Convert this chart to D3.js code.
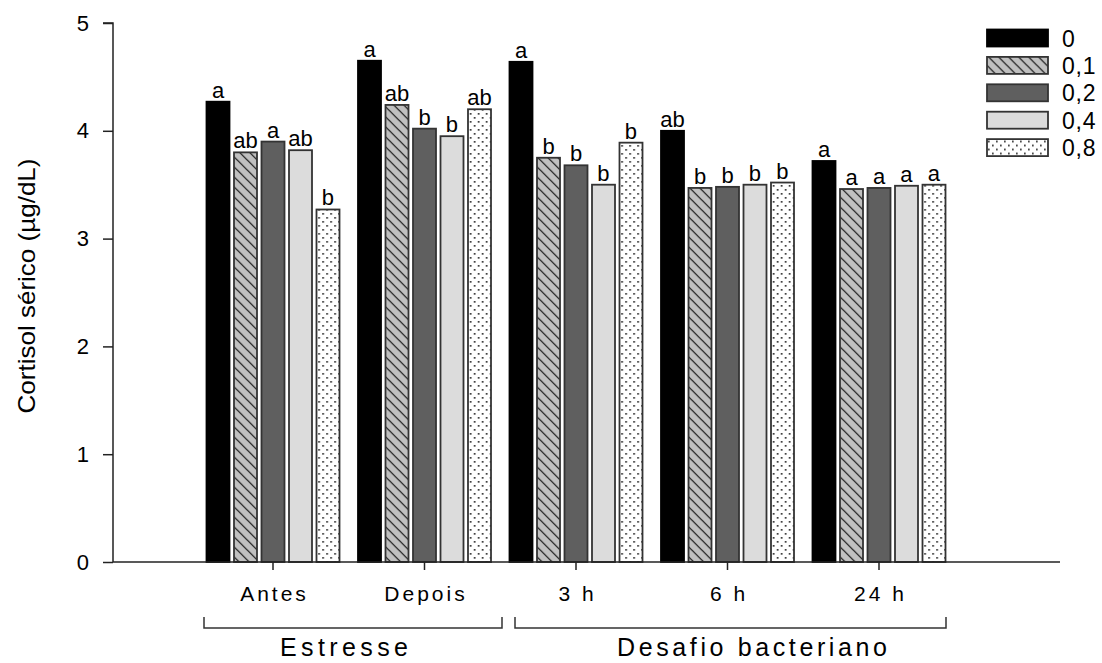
<!DOCTYPE html>
<html lang="pt">
<head>
<meta charset="UTF-8">
<title>Cortisol sérico</title>
<style>
  body { margin: 0; background: #fff; }
  text { font-family: "Liberation Sans", Arial, sans-serif; fill: #000; }
</style>
</head>
<body>
<svg id="chart" width="1102" height="663"></svg>
<script src="https://cdn.jsdelivr.net/npm/d3@7"></script>
<script>
  // data
  let categories = ["Antes", "Depois", "3 h", "6 h", "24 h"]
  let series = ["0", "0,1", "0,2", "0,4", "0,8"]
  let values = [
    [4.27, 3.80, 3.90, 3.82, 3.27],
    [4.65, 4.24, 4.02, 3.95, 4.20],
    [4.64, 3.75, 3.68, 3.50, 3.89],
    [4.00, 3.47, 3.48, 3.50, 3.52],
    [3.72, 3.46, 3.47, 3.49, 3.50]
  ]
  let letters = [
    ["a", "ab", "a", "ab", "b"],
    ["a", "ab", "b", "b", "ab"],
    ["a", "b", "b", "b", "b"],
    ["ab", "b", "b", "b", "b"],
    ["a", "a", "a", "a", "a"]
  ]
  let yTicks = [0, 1, 2, 3, 4, 5]
  let groups = [
    {label: "Estresse", from: 204, to: 502, center: 344, len: 128},
    {label: "Desafio bacteriano", from: 515, to: 946, center: 752, len: 270}
  ]

  let svg = d3.select("#chart")
  let defs = svg.append("defs")

  let hatch = defs.append("pattern")
                  .attr("id", "hatch")
                  .attr("patternUnits", "userSpaceOnUse")
                  .attr("width", 10).attr("height", 10)
  hatch.append("rect").attr("width", 10).attr("height", 10).attr("fill", "#c0c0c0")
  hatch.append("path")
       .attr("d", "M-1,-1 L11,11 M-6,4 L1,11 M4,-6 L11,1")
       .attr("stroke", "#111").attr("stroke-width", 1.2)

  let dots = defs.append("pattern")
                 .attr("id", "dots")
                 .attr("patternUnits", "userSpaceOnUse")
                 .attr("width", 8).attr("height", 8)
  dots.append("rect").attr("width", 8).attr("height", 8).attr("fill", "#fff")
  dots.append("rect").attr("x", 1).attr("y", 1).attr("width", 1.7).attr("height", 1.7).attr("fill", "#333")
  dots.append("rect").attr("x", 5).attr("y", 5).attr("width", 1.7).attr("height", 1.7).attr("fill", "#333")

  let fills = ["#000", "url(#hatch)", "#5f5f5f", "#dcdcdc", "url(#dots)"]

  let axisLeft = 113, axisRight = 1060

  let y = d3.scaleLinear().domain([0, 5]).range([562, 23])
  let x0 = d3.scaleBand().domain(categories).range([197.25, 954.75])
  let x1 = d3.scaleBand().domain(series)
             .range([(x0.bandwidth() - 133) / 2, (x0.bandwidth() + 133) / 2])
             .paddingInner(0.1636)

  // bars
  let group = svg.append("g").selectAll("g")
                 .data(categories)
                 .enter()
                 .append("g")
                 .attr("transform", d => `translate(${x0(d)},0)`)

  group.selectAll("rect")
       .data((c, i) => series.map((s, j) => ({s: s, j: j, v: values[i][j], l: letters[i][j]})))
       .enter()
       .append("rect")
       .attr("x", d => x1(d.s))
       .attr("y", d => y(d.v))
       .attr("width", x1.bandwidth())
       .attr("height", d => y(0) - y(d.v))
       .attr("fill", d => fills[d.j])
       .attr("stroke", d => d.j == 0 ? "#000" : "#333")
       .attr("stroke-width", 1.8)

  group.selectAll("text")
       .data((c, i) => series.map((s, j) => ({s: s, v: values[i][j], l: letters[i][j]})))
       .enter()
       .append("text")
       .attr("x", d => x1(d.s) + x1.bandwidth() / 2)
       .attr("y", d => y(d.v) - 4)
       .attr("text-anchor", "middle")
       .attr("font-size", 22)
       .text(d => d.l)

  // y axis
  let yAxis = svg.append("g")
                 .attr("transform", `translate(${axisLeft},0)`)
                 .call(d3.axisLeft(y).tickValues(yTicks).tickFormat(d3.format("d")).tickSize(10).tickPadding(14))
  yAxis.select(".domain").attr("d", `M-10,${y(5)}H0V${y(0)}`).attr("stroke", "#222").attr("stroke-width", 1.5)
  yAxis.selectAll(".tick line").attr("stroke", "#222").attr("stroke-width", 1.5)
  yAxis.selectAll(".tick text").attr("font-size", 22).attr("font-family", "Liberation Sans, Arial, sans-serif").attr("fill", "#000")

  // x axis
  svg.append("line")
     .attr("x1", axisLeft).attr("x2", axisRight)
     .attr("y1", y(0)).attr("y2", y(0))
     .attr("stroke", "#222").attr("stroke-width", 1.5)

  let xTicks = svg.append("g").selectAll("g")
                  .data(categories)
                  .enter()
                  .append("g")
                  .attr("transform", d => `translate(${x0(d) + x0.bandwidth() / 2},${y(0)})`)
  xTicks.append("line").attr("y2", 8).attr("stroke", "#222").attr("stroke-width", 1.5)
  xTicks.append("text")
        .attr("x", 1.5)
        .attr("y", 39)
        .attr("text-anchor", "middle")
        .attr("font-size", 21)
        .attr("letter-spacing", 3)
        .text(d => d)

  // group brackets
  let g2 = svg.append("g").selectAll("g").data(groups).enter().append("g")
  g2.append("path")
    .attr("d", d => `M${d.from},617V628H${d.to}V617`)
    .attr("fill", "none").attr("stroke", "#333").attr("stroke-width", 1.5)
  g2.append("text")
    .attr("x", d => d.center)
    .attr("y", 656)
    .attr("text-anchor", "middle")
    .attr("font-size", 25)
    .attr("textLength", d => d.len)
    .attr("lengthAdjust", "spacing")
    .text(d => d.label)

  // y title
  svg.append("text")
     .attr("transform", "translate(35,286) rotate(-90)")
     .attr("text-anchor", "middle")
     .attr("font-size", 24)
     .attr("font-family", "Liberation Sans Narrow, Arial Narrow, sans-serif")
     .attr("textLength", 255)
     .attr("lengthAdjust", "spacingAndGlyphs")
     .text("Cortisol sérico (µg/dL)")

  // legend
  let legend = svg.append("g").selectAll("g")
                  .data(series)
                  .enter()
                  .append("g")
                  .attr("transform", (d, i) => `translate(987,${38 + i * 27.4})`)
  legend.append("rect")
        .attr("x", 0).attr("y", -8.5)
        .attr("width", 61).attr("height", 17)
        .attr("fill", (d, i) => fills[i])
        .attr("stroke", (d, i) => i == 0 ? "#000" : "#333")
        .attr("stroke-width", 1.8)
  legend.append("text")
        .attr("x", 75).attr("y", 8.5)
        .attr("font-size", 23)
        .attr("letter-spacing", 0.8)
        .text(d => d)
</script>
</body>
</html>
